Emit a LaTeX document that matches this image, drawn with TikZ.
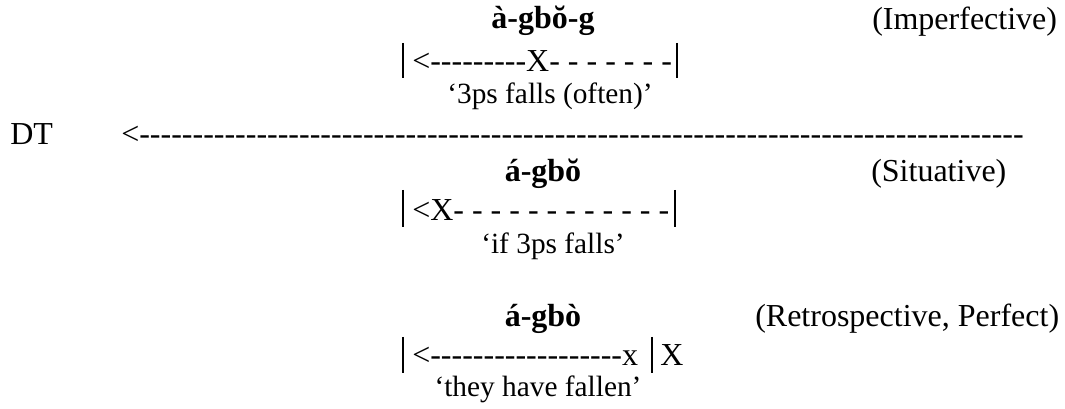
\documentclass[tikz,border=0pt]{standalone}
\usepackage{fontspec}
\newfontfamily\tnr{Liberation Serif}
\newcommand\hyphens[1]{\foreach\k in {1,...,#1}{-}}
\tikzset{
  txt/.style={font=\tnr\fontsize{24}{29}\selectfont, inner sep=0pt, anchor=base west},
  form/.style={txt, font=\tnr\fontsize{24}{29}\selectfont\bfseries, anchor=base},
  gloss/.style={txt, font=\tnr\fontsize{22}{27}\selectfont, anchor=base},
  bar/.style={line width=1.1pt}
}
\begin{document}
\begin{tikzpicture}[x=0.75pt, y=-0.75pt]
    \useasboundingbox (0,0) rectangle (1065,409);

    % Imperfective
    \node[form] (form1) at (543,29) {à-gbŏ-g};
    \node[txt] (aspect1) at (872,30) {(Imperfective)};
    \node[txt] (span1) at (412,72) {<---------X- - - - - - -};
    \draw[bar] (403,43) -- (403,78);
    \draw[bar] (677,43) -- (677,78);
    \node[gloss] (gloss1) at (550,104) {‘3ps falls (often)’};

    % time line
    \node[txt] (dt) at (10,145) {DT};
    \node[txt] (axis) at (121,145) {<\hyphens{83}};

    % Situative
    \node[form] (form2) at (543,182) {á-gbŏ};
    \node[txt] (aspect2) at (871,182) {(Situative)};
    \node[txt] (span2) at (412,221) {<X- - - - - - - - - - - -};
    \draw[bar] (403,190) -- (403,227);
    \draw[bar] (675,190) -- (675,227);
    \node[gloss] (gloss2) at (553,254) {‘if 3ps falls’};

    % Retrospective
    \node[form] (form3) at (543,327) {á-gbò};
    \node[txt] (aspect3) at (755,327) {(Retrospective, Perfect)};
    \node[txt] (span3) at (412,366) {<\hyphens{18}x};
    \draw[bar] (403,337) -- (403,373);
    \draw[bar] (652,337) -- (652,373);
    \node[txt] (end3) at (660,366) {X};
    \node[gloss] (gloss3) at (538,397) {‘they have fallen’};
\end{tikzpicture}
\end{document}
